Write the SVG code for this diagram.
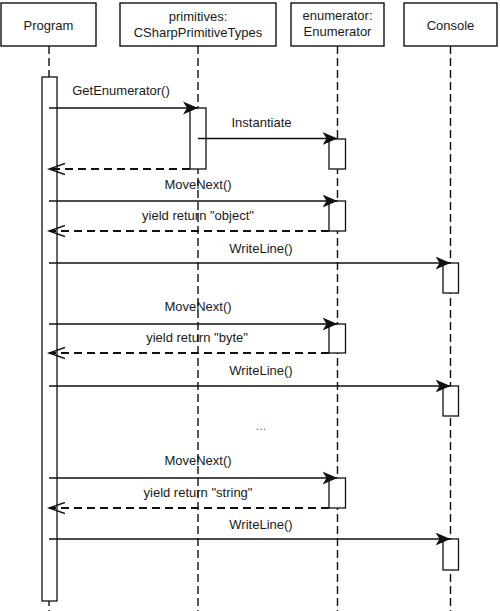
<svg xmlns="http://www.w3.org/2000/svg" width="500" height="611" viewBox="0 0 500 611">
<style>
  .box { fill: #fff; stroke: #111; stroke-width: 1.4; }
  .act { fill: #fff; stroke: #111; stroke-width: 1.3; }
  .life { fill: none; stroke: #111; stroke-width: 1.4; stroke-dasharray: 8 4; }
  .msg { fill: none; stroke: #111; stroke-width: 1.4; marker-end: url(#filled); }
  .ret { fill: none; stroke: #111; stroke-width: 1.8; stroke-dasharray: 8 5; marker-end: url(#open); }
  text { font-family: "Liberation Sans", Arial, Helvetica, sans-serif; font-size: 13px; fill: #1a1a1a; text-anchor: middle; }
</style>
<defs>
  <marker id="filled" markerUnits="userSpaceOnUse" markerWidth="16" markerHeight="14" refX="15" refY="7" orient="auto">
    <path d="M0,0.5 L15,7 L0,13.5 L4,7 z" fill="#111"/>
  </marker>
  <marker id="open" markerUnits="userSpaceOnUse" markerWidth="18" markerHeight="13" refX="16" refY="6.5" orient="auto">
    <path d="M0,1 L16,6.5 L0,12" fill="none" stroke="#111" stroke-width="1.5"/>
  </marker>
</defs>
<rect width="500" height="611" fill="#fff"/>

<g id="program">
  <line class="life" x1="49" y1="46" x2="49" y2="611"/>
  <rect class="box" x="1" y="3" width="95" height="43"/>
  <text x="48.5" y="29.5">Program</text>
  <rect class="act" x="42" y="77" width="15" height="524"/>
</g>

<g id="primitives">
  <line class="life" x1="198" y1="46" x2="198" y2="611"/>
  <rect class="box" x="120" y="3" width="156" height="43"/>
  <text x="198" y="21">primitives:</text>
  <text x="198" y="37">CSharpPrimitiveTypes</text>
  <rect class="act" x="190" y="108" width="16" height="61"/>
</g>

<g id="enumerator">
  <line class="life" x1="337.5" y1="46" x2="337.5" y2="611"/>
  <rect class="box" x="291" y="3" width="93" height="43"/>
  <text x="337.5" y="20">enumerator:</text>
  <text x="337.5" y="36">Enumerator</text>
  <rect class="act" x="329" y="139" width="16.5" height="30"/>
  <rect class="act" x="329" y="201" width="16.5" height="30"/>
  <rect class="act" x="329" y="324" width="16.5" height="29"/>
  <rect class="act" x="329" y="478" width="16.5" height="30"/>
</g>

<g id="console">
  <line class="life" x1="450.5" y1="46" x2="450.5" y2="611"/>
  <rect class="box" x="404" y="3" width="93" height="43"/>
  <text x="450.5" y="29.5">Console</text>
  <rect class="act" x="443" y="263" width="15.5" height="30"/>
  <rect class="act" x="443" y="386" width="15.5" height="30"/>
  <rect class="act" x="443" y="539" width="15.5" height="31"/>
</g>

<g id="connectors">
  <line class="msg" x1="49" y1="108" x2="198" y2="108"/>
  <text x="121" y="95">GetEnumerator()</text>

  <line class="msg" x1="198" y1="138.5" x2="337.5" y2="138.5"/>
  <text x="261.5" y="127">Instantiate</text>

  <line class="ret" x1="190" y1="169" x2="49" y2="169"/>

  <line class="msg" x1="49" y1="201" x2="337.5" y2="201"/>
  <text x="198" y="189">MoveNext()</text>

  <line class="ret" x1="329" y1="231" x2="49" y2="231"/>
  <text x="198" y="220">yield return "object"</text>

  <line class="msg" x1="49" y1="263" x2="450.5" y2="263"/>
  <text x="261" y="253">WriteLine()</text>

  <line class="msg" x1="49" y1="324" x2="337.5" y2="324"/>
  <text x="198" y="311">MoveNext()</text>

  <line class="ret" x1="329" y1="353" x2="49" y2="353"/>
  <text x="197" y="342">yield return "byte"</text>

  <line class="msg" x1="49" y1="386" x2="450.5" y2="386"/>
  <text x="261" y="375">WriteLine()</text>

  <text x="261" y="430" style="fill:#777">...</text>

  <line class="msg" x1="49" y1="478" x2="337.5" y2="478"/>
  <text x="198" y="465">MoveNext()</text>

  <line class="ret" x1="329" y1="508" x2="49" y2="508"/>
  <text x="198" y="497">yield return "string"</text>

  <line class="msg" x1="49" y1="539" x2="450.5" y2="539"/>
  <text x="261" y="529">WriteLine()</text>
</g>
</svg>
